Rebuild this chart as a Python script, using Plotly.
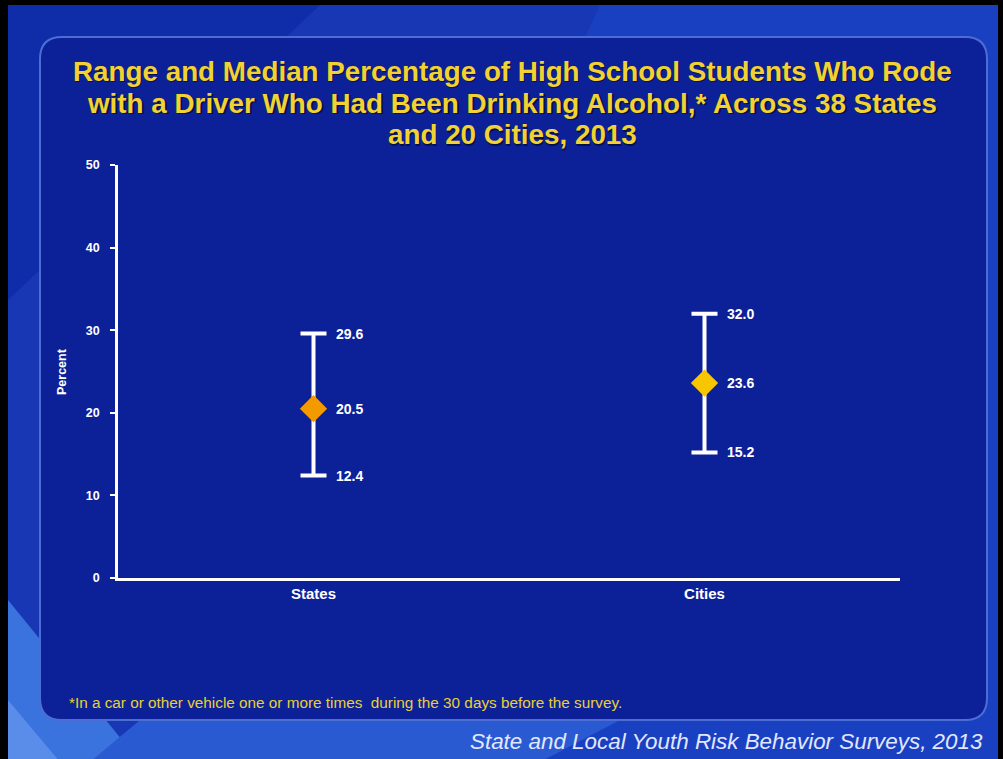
import plotly.graph_objects as go

categories = ["States", "Cities"]
medians = [20.5, 23.6]
mins = [12.4, 15.2]
maxs = [29.6, 32.0]
median_colors = ["#F39A00", "#F7C600"]
y_ticks = [0, 10, 20, 30, 40, 50]

W, H = 1003, 759
L, R, T, B = 118, 900, 165, 578


def px(x):
    return (x - L) / (R - L)


def py(y):
    return (B - y) / (B - T)


fig = go.Figure()

fig.add_trace(go.Scatter(
    x=categories, y=medians, mode="markers",
    marker=dict(symbol="diamond", size=21, color=median_colors, line=dict(width=0)),
    error_y=dict(type="data", symmetric=False,
                 array=[mx - md for mx, md in zip(maxs, medians)],
                 arrayminus=[md - mn for md, mn in zip(medians, mins)],
                 color="white", thickness=4, width=13),
    hoverinfo="skip", showlegend=False,
))

annotations = []
for c, md, mn, mx in zip(categories, medians, mins, maxs):
    for v in (mn, md, mx):
        annotations.append(dict(x=c, y=v, xref="x", yref="y", text=f"<b>{v:.1f}</b>",
                                showarrow=False, xanchor="left", yanchor="middle",
                                xshift=20, font=dict(family="Liberation Sans", size=14, color="white")))

title_lines = ["Range and Median Percentage of High School Students Who Rode",
               "with a Driver Who Had Been Drinking Alcohol,* Across 38 States",
               "and 20 Cities, 2013"]
for i, line in enumerate(title_lines):
    for dx, dy, col in ((1.5, 1.5, "#06104a"), (0, 0, "#F2D232")):
        annotations.append(dict(x=px(512 + dx), y=py(71 + 32 * i + dy), xref="paper", yref="paper",
                                text=f"<b>{line}</b>", showarrow=False, xanchor="center", yanchor="middle",
                                font=dict(family="Liberation Sans", size=27.8, color=col)))

annotations.append(dict(x=px(67), y=py(702), xref="paper", yref="paper",
                        text="*In a car or other vehicle one or more times  during the 30 days before the survey.",
                        showarrow=False, xanchor="left", yanchor="middle",
                        font=dict(family="Liberation Sans", size=15.3, color="#E8CF3A")))
annotations.append(dict(x=px(985), y=py(741), xref="paper", yref="paper",
                        text="<i>State and Local Youth Risk Behavior Surveys, 2013</i>",
                        showarrow=False, xanchor="right", yanchor="middle",
                        font=dict(family="Liberation Sans", size=22.4, color="#E2E8FF")))
annotations.append(dict(x=px(62), y=py(372), xref="paper", yref="paper",
                        text="<b>Percent</b>", textangle=-90, showarrow=False,
                        xanchor="center", yanchor="middle",
                        font=dict(family="Liberation Sans", size=12.5, color="white")))


def rrect(x0, y0, x1, y1, r):
    X0, X1 = px(x0), px(x1)
    Y0, Y1 = py(y0), py(y1)
    rx = r / (R - L)
    ry = r / (B - T)
    return (f"M {X0+rx},{Y0} L {X1-rx},{Y0} Q {X1},{Y0} {X1},{Y0-ry} "
            f"L {X1},{Y1+ry} Q {X1},{Y1} {X1-rx},{Y1} L {X0+rx},{Y1} "
            f"Q {X0},{Y1} {X0},{Y1+ry} L {X0},{Y0-ry} Q {X0},{Y0} {X0+rx},{Y0} Z")


def poly(points):
    return "M " + " L ".join(f"{px(x)},{py(y)}" for x, y in points) + " Z"


shapes = [
    dict(type="rect", xref="paper", yref="paper", x0=px(8), x1=px(998), y0=py(5), y1=py(762),
         fillcolor="#1A40C2", line=dict(width=0), layer="below"),
    dict(type="path", xref="paper", yref="paper", path=poly([(8, 5), (600, 5), (250, 762), (8, 762)]),
         fillcolor="#1737B5", line=dict(width=0), layer="below"),
    dict(type="path", xref="paper", yref="paper", path=poly([(8, 5), (320, 5), (8, 300)]),
         fillcolor="#0F2DA8", line=dict(width=0), layer="below"),
    dict(type="path", xref="paper", yref="paper", path=poly([(8, 600), (140, 762), (8, 762)]),
         fillcolor="#3A72DE", line=dict(width=0), layer="below"),
    dict(type="path", xref="paper", yref="paper", path=poly([(8, 700), (60, 762), (8, 762)]),
         fillcolor="#5A8CEA", line=dict(width=0), layer="below"),
    dict(type="path", xref="paper", yref="paper", path=poly([(140, 720), (620, 720), (540, 762), (90, 762)]),
         fillcolor="#2A5AD2", line=dict(width=0), layer="below"),
    dict(type="path", xref="paper", yref="paper", path=rrect(40, 37, 987, 720, 22),
         fillcolor="#0C2198", line=dict(width=2, color="#4D6DD4"), layer="below"),
]

fig.update_layout(
    width=W, height=H,
    margin=dict(l=L, r=W - R, t=T, b=H - B, pad=0),
    paper_bgcolor="black", plot_bgcolor="rgba(0,0,0,0)",
    shapes=shapes, annotations=annotations, showlegend=False, hovermode=False,
    xaxis=dict(type="category", range=[-0.5, 1.5], showgrid=False, zeroline=False,
               showline=True, linecolor="white", linewidth=2.5, ticks="",
               tickfont=dict(family="Liberation Sans", size=15, color="white"),
               tickvals=categories, ticktext=[f"<b>{c}</b>" for c in categories]),
    yaxis=dict(range=[0, 50], tickvals=y_ticks, ticktext=[f"<b>{t}</b>" for t in y_ticks],
               showgrid=False, zeroline=False, showline=True, linecolor="white", linewidth=2.5,
               ticks="outside", ticklen=5, tickwidth=2, tickcolor="white", ticklabelstandoff=8,
               tickfont=dict(family="Liberation Sans", size=12.5, color="white")),
)

fig.write_html("out.html", config={"displayModeBar": False},
               post_script="document.body.style.margin='0';document.body.style.background='black';")
